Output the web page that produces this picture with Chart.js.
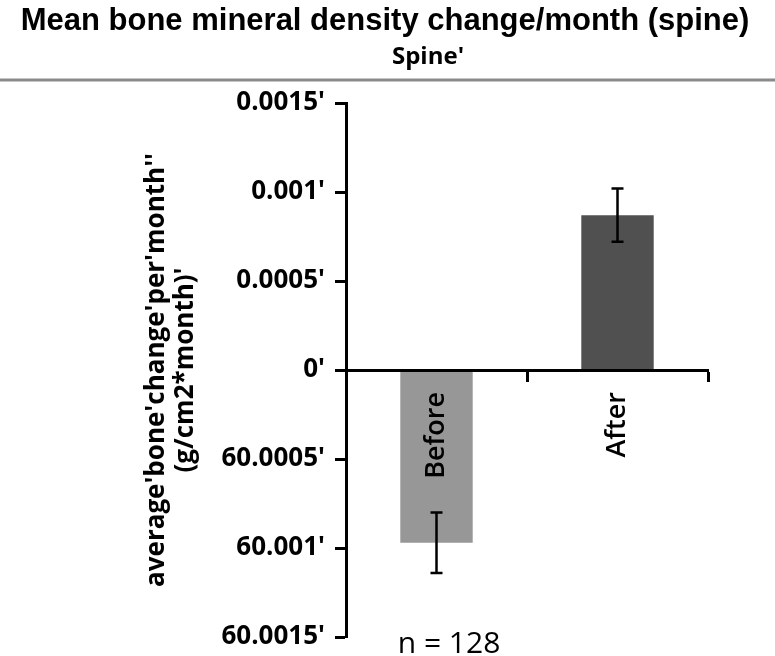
<!DOCTYPE html>
<html>
<head>
<meta charset="utf-8">
<script src="https://cdn.jsdelivr.net/npm/chart.js@4.4.1/dist/chart.umd.min.js"></script>
<style>
  html, body { margin: 0; padding: 0; background: #fff; }
</style>
</head>
<body>
<canvas id="chart" width="775" height="656"></canvas>
<script>
const categories = ["Before", "After"]
const meanChange = [-0.00097, 0.00087]
const errorSize = [0.00017, 0.00015]
const barColors = ["#979797", "#505050"]
const yTickValues = [-0.0015, -0.001, -0.0005, 0, 0.0005, 0.001, 0.0015]
const yTickLabels = ["60.0015'", "60.001'", "60.0005'", "0'", "0.0005'", "0.001'", "0.0015'"]
const yTitle = ["average'bone'change'per'month''", "(g/cm2*month)'"]
const chartTitle = "Mean bone mineral density change/month (spine)"
const panelTitle = "Spine'"
const sampleNote = "n = 128"

// error bars on top of the bars
const errorBars = {
  id: "errorBars",
  afterDatasetsDraw(chart) {
    const { ctx } = chart
    const y = chart.scales.y
    const meta = chart.getDatasetMeta(0)
    ctx.save()
    ctx.strokeStyle = "#000"
    ctx.lineWidth = 2.5
    meta.data.forEach((bar, i) => {
      const top = y.getPixelForValue(meanChange[i] + errorSize[i])
      const bottom = y.getPixelForValue(meanChange[i] - errorSize[i])
      ctx.beginPath()
      ctx.moveTo(bar.x, top)
      ctx.lineTo(bar.x, bottom)
      ctx.moveTo(bar.x - 6, top)
      ctx.lineTo(bar.x + 6, top)
      ctx.moveTo(bar.x - 6, bottom)
      ctx.lineTo(bar.x + 6, bottom)
      ctx.stroke()
    })
    ctx.restore()
  }
}

// heading, rule under the panel title and the sample size note
const header = {
  id: "header",
  beforeDraw(chart) {
    const { ctx, width } = chart
    ctx.save()
    ctx.fillStyle = "#000"
    ctx.textAlign = "center"
    ctx.textBaseline = "middle"
    ctx.font = "bold 31px 'Liberation Sans', Arial, sans-serif"
    ctx.fillText(chartTitle, 385, 21)
    ctx.font = "bold 24px 'Open Sans', sans-serif"
    ctx.fillText(panelTitle, 428, 57)
    ctx.strokeStyle = "#8a8a8a"
    ctx.lineWidth = 3
    ctx.beginPath()
    ctx.moveTo(0, 80)
    ctx.lineTo(width, 80)
    ctx.stroke()
    ctx.font = "30px 'Open Sans', sans-serif"
    ctx.textBaseline = "alphabetic"
    ctx.fillText(sampleNote, 449, 653)
    ctx.restore()
  }
}

new Chart(document.getElementById("chart"), {
  type: "bar",
  data: {
    labels: categories,
    datasets: [{
      data: meanChange,
      backgroundColor: barColors,
      barPercentage: 0.4,
      categoryPercentage: 1
    }]
  },
  options: {
    responsive: false,
    animation: false,
    layout: { padding: { top: 103, bottom: 19, right: 67, left: 0 } },
    plugins: {
      legend: { display: false },
      tooltip: { enabled: false }
    },
    scales: {
      x: {
        position: { y: 0 },
        grid: { drawOnChartArea: false, tickLength: 10, tickWidth: 3, tickColor: "#000", z: 1 },
        border: { color: "#000", width: 3, z: 1 },
        ticks: {
          z: 1,
          minRotation: 90,
          maxRotation: 90,
          autoSkip: false,
          padding: 12,
          color: "#000",
          font: { family: "Open Sans", size: 27, weight: "600" }
        }
      },
      y: {
        min: -0.0015,
        max: 0.0015,
        afterBuildTicks: scale => { scale.ticks = yTickValues.map(v => ({ value: v })) },
        afterFit: scale => { scale.width = 346 },
        grid: { drawOnChartArea: false, tickLength: 11, tickWidth: 3, tickColor: "#000" },
        border: { color: "#000", width: 3 },
        ticks: {
          callback: (value, index) => yTickLabels[index],
          padding: 10,
          color: "#000",
          font: { family: "Open Sans", weight: "bold", size: 26, lineHeight: 0.6 }
        },
        title: {
          display: true,
          text: yTitle,
          color: "#000",
          font: { family: "Open Sans", weight: "bold", size: 26, lineHeight: 1.12 },
          padding: { top: 142, bottom: 0 }
        }
      }
    }
  },
  plugins: [header, errorBars]
})
</script>
</body>
</html>
